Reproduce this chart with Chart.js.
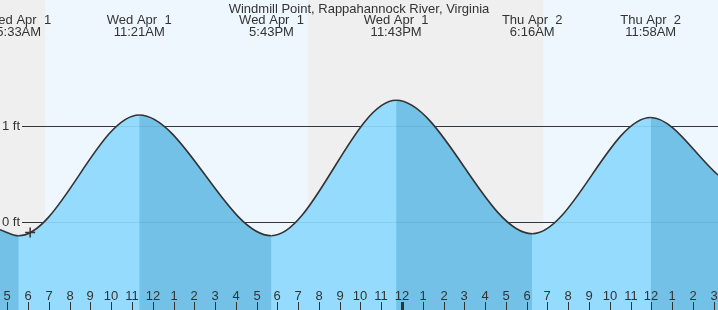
<!DOCTYPE html>
<html>
<head>
<meta charset="utf-8">
<script src="https://cdn.jsdelivr.net/npm/chart.js@4.4.1/dist/chart.umd.min.js"></script>
<style>
html, body { margin: 0; padding: 0; background: #fff; }
#wrap { width: 718px; height: 310px; }
</style>
</head>
<body>
<div id="wrap"><canvas id="tide"></canvas></div>
<script>
// hours are counted from Wed Apr 1, 00:00
var title = "Windmill Point, Rappahannock River, Virginia";
var tideHours = [4.649, 5.55, 11.35, 17.717, 23.717, 30.267, 35.967, 39.208];
var tideFeet = [-0.08, -0.143, 1.115, -0.143, 1.268, -0.122, 1.089, 0.49];
var extremeHours = [5.55, 11.35, 17.717, 23.717, 30.267, 35.967];
var extremeDays = ["Wed Apr  1", "Wed Apr  1", "Wed Apr  1", "Wed Apr  1", "Thu Apr  2", "Thu Apr  2"];
var extremeTimes = ["5:33AM", "11:21AM", "5:43PM", "11:43PM", "6:16AM", "11:58AM"];
var dayStart = [6.833, 30.8]; // sunrise
var dayEnd = [19.467, 39.208]; // sunset / edge
var nowHour = [6.1];
var nowFeet = [-0.11];
var depthLines = [0, 1];
var depthLabels = ["0 ft", "1 ft"];
var hourTicks = [5, 6, 7, 8, 9, 10, 11, 12, 13, 14, 15, 16, 17, 18, 19, 20, 21, 22, 23, 24,
  25, 26, 27, 28, 29, 30, 31, 32, 33, 34, 35, 36, 37, 38, 39];
var hourLabels = ["5", "6", "7", "8", "9", "10", "11", "12", "1", "2", "3", "4", "5", "6", "7", "8", "9", "10", "11", "12",
  "1", "2", "3", "4", "5", "6", "7", "8", "9", "10", "11", "12", "1", "2", "3"];
var midnight = 24;

var FONT = '13px "Liberation Sans", Arial, sans-serif';
var INK = '#333';
var RISING = '#95dbfd';
var FALLING = '#73c1e6';

var tidePoints = tideHours.map(function (h, i) { return { x: h, y: tideFeet[i] }; });
var nowPoints = nowHour.map(function (h, i) { return { x: h, y: nowFeet[i] }; });

function depthRules(chart, colour) {
  var ctx = chart.ctx, a = chart.chartArea, y = chart.scales.y;
  ctx.strokeStyle = colour;
  ctx.lineWidth = 1;
  depthLines.forEach(function (v) {
    var py = Math.round(y.getPixelForValue(v)) + 0.5;
    ctx.beginPath();
    ctx.moveTo(22, py);
    ctx.lineTo(a.right, py);
    ctx.stroke();
  });
}

var backdrop = {
  id: 'backdrop',
  beforeDatasetsDraw: function (chart) {
    var ctx = chart.ctx, a = chart.chartArea, x = chart.scales.x;
    ctx.save();
    ctx.fillStyle = '#efefef';
    ctx.fillRect(a.left, a.top, a.width, a.height);
    ctx.fillStyle = '#eef7fe';
    for (var i = 0; i < dayStart.length; i++) {
      var x0 = x.getPixelForValue(dayStart[i]), x1 = x.getPixelForValue(dayEnd[i]);
      ctx.fillRect(x0, a.top, x1 - x0, a.height);
    }
    depthRules(chart, INK);
    ctx.restore();
  },
  afterDatasetsDraw: function (chart) {
    var ctx = chart.ctx, a = chart.chartArea, x = chart.scales.x, y = chart.scales.y;
    ctx.save();
    // faint rule showing through the water
    depthRules(chart, 'rgba(40,90,120,0.12)');
    ctx.font = FONT;
    ctx.fillStyle = INK;
    ctx.textAlign = 'center';
    ctx.textBaseline = 'alphabetic';
    ctx.fillText(title, (a.left + a.right) / 2, 13);
    extremeHours.forEach(function (h, i) {
      var px = x.getPixelForValue(h);
      ctx.fillText(extremeDays[i], px, 24);
      ctx.fillText(extremeTimes[i], px, 36);
    });
    // depth labels
    ctx.textAlign = 'right';
    ctx.textBaseline = 'middle';
    depthLines.forEach(function (v, i) {
      ctx.fillText(depthLabels[i], 20, y.getPixelForValue(v) + 0.5);
    });
    // hour ticks
    ctx.textAlign = 'center';
    ctx.textBaseline = 'alphabetic';
    ctx.strokeStyle = INK;
    ctx.lineWidth = 1;
    hourTicks.forEach(function (h, i) {
      var px = Math.round(x.getPixelForValue(h));
      ctx.fillText(hourLabels[i], px, 300);
      if (h === midnight) {
        ctx.fillRect(px - 1, 302, 3, a.bottom - 302);
      } else {
        ctx.beginPath();
        ctx.moveTo(px + 0.5, 302);
        ctx.lineTo(px + 0.5, a.bottom);
        ctx.stroke();
      }
    });
    ctx.restore();
  }
};

new Chart(document.getElementById('tide'), {
  type: 'line',
  data: {
    datasets: [{
      data: nowPoints,
      showLine: false,
      pointStyle: 'cross',
      pointRadius: 5,
      borderColor: INK,
      borderWidth: 1.5,
      order: 0
    }, {
      data: tidePoints,
      borderColor: INK,
      borderWidth: 1.6,
      pointRadius: 0,
      cubicInterpolationMode: 'monotone',
      fill: 'start',
      backgroundColor: RISING,
      segment: {
        // rising tide light, falling tide dark
        backgroundColor: function (c) {
          return c.p1.parsed.y > c.p0.parsed.y ? RISING : FALLING;
        }
      },
      order: 1
    }, {
      // plain water underneath so the segment joins leave no seam
      data: tidePoints,
      borderWidth: 0,
      borderColor: 'rgba(0,0,0,0)',
      pointRadius: 0,
      cubicInterpolationMode: 'monotone',
      fill: 'start',
      backgroundColor: RISING,
      order: 2
    }]
  },
  options: {
    responsive: true,
    maintainAspectRatio: false,
    animation: false,
    layout: { padding: 0, autoPadding: false },
    plugins: { legend: { display: false }, tooltip: { enabled: false } },
    scales: {
      x: { type: 'linear', min: 4.649, max: 39.208, display: false },
      y: { min: -0.9167, max: 2.3125, display: false }
    }
  },
  plugins: [backdrop]
});
</script>
</body>
</html>
